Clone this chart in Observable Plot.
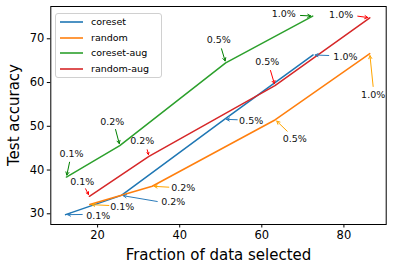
<!DOCTYPE html>
<html>
<head>
<meta charset="utf-8">
<script src="https://cdn.jsdelivr.net/npm/d3@7"></script>
<script src="https://cdn.jsdelivr.net/npm/@observablehq/plot@0.6"></script>
<style>
  body { margin: 0; background: #fff; }
  #wrap { position: relative; width: 393px; height: 270px; font-family: "DejaVu Sans", sans-serif; }
  #legend { position: absolute; left: 55px; top: 12.5px; width: 105px; height: 63px;
    border: 1px solid #d0d0d0; border-radius: 3px; background: rgba(255,255,255,0.8); }
  .row { position: absolute; left: 0; width: 105px; height: 14px; font-size: 9.5px; line-height: 14px; color: #000; }
  .row svg { position: absolute; left: 3px; top: 0; }
  .row span.tx { position: absolute; left: 35px; top: 0; white-space: nowrap; }
  #ylab { position: absolute; left: 13.5px; top: 115px; font-size: 15px; color: #000; white-space: nowrap;
    transform: translate(-50%, -50%) rotate(-90deg); line-height: 17px; }
</style>
</head>
<body>
<div id="wrap"><div id="chart"></div><div id="legend"></div><div id="ylab"></div></div>
<script>
const series = ["coreset", "random", "coreset-aug", "random-aug"];
const colors = ["#1f77b4", "#ff7f0e", "#2ca02c", "#d62728"];
const arrowColors = ["#2b7bba", "orange", "green", "red"];
const budgets = ["0.1%", "0.2%", "0.5%", "1.0%"];
const xLabel = "Fraction of data selected";
const yLabel = "Test accuracy";

// Fraction of data selected (x) and test accuracy (y), per series
const fracCoreset    = [12.2, 25.8, 50.9, 72.5];
const accCoreset     = [29.8, 34.2, 51.6, 66.3];
const fracRandom     = [18.1, 33.3, 63.3, 86.3];
const accRandom      = [32.1, 36.3, 51.5, 66.6];
const fracCoresetAug = [12.4, 25.4, 51.2, 72.4];
const accCoresetAug  = [38.4, 45.6, 64.5, 75.2];
const fracRandomAug  = [18.0, 32.5, 63.2, 86.3];
const accRandomAug   = [34.0, 43.1, 59.3, 74.8];

// Annotation text locations (data units), per series, per budget
const textXCoreset    = [20.16, 38.42, 57.41, 80.37];
const textYCoreset    = [29.61, 32.65, 51.33, 65.95];
const textXRandom     = [26.0, 40.86, 68.03, 87.12];
const textYRandom     = [31.67, 35.94, 47.14, 57.2];
const textXCoresetAug = [13.66, 23.57, 49.53, 65.35];
const textYCoresetAug = [43.78, 50.94, 69.77, 75.71];
const textXRandomAug  = [16.26, 30.87, 61.31, 79.33];
const textYRandomAug  = [37.38, 46.75, 64.65, 75.55];

// Arrow tail locations (data units)
const tailXCoreset    = [16.26, 34.53, 54.01, 76.31];
const tailYCoreset    = [29.84, 32.81, 51.49, 66.18];
const tailXRandom     = [22.74, 37.35, 66.18, 87.12];
const tailYRandom     = [31.9, 36.08, 48.88, 59.1];
const tailXCoresetAug = [13.17, 24.37, 50.18, 69.42];
const tailYCoresetAug = [41.79, 49.27, 67.71, 75.33];
const tailXRandomAug  = [17.07, 32.09, 62.11, 83.37];
const tailYRandomAug  = [35.71, 44.63, 62.75, 75.17];

const xs = [fracCoreset, fracRandom, fracCoresetAug, fracRandomAug];
const ys = [accCoreset, accRandom, accCoresetAug, accRandomAug];
const txs = [textXCoreset, textXRandom, textXCoresetAug, textXRandomAug];
const tys = [textYCoreset, textYRandom, textYCoresetAug, textYRandomAug];
const axs = [tailXCoreset, tailXRandom, tailXCoresetAug, tailXRandomAug];
const ays = [tailYCoreset, tailYRandom, tailYCoresetAug, tailYRandomAug];

const pts = [];
const anns = [];
series.forEach((s, i) => {
  budgets.forEach((b, j) => {
    pts.push({series: s, x: xs[i][j], y: ys[i][j]});
    anns.push({series: s, label: b, tx: txs[i][j], ty: tys[i][j],
      ax: axs[i][j], ay: ays[i][j], px: xs[i][j], py: ys[i][j], color: arrowColors[i]});
  });
});

const font = "DejaVu Sans, sans-serif";
const chart = Plot.plot({
  width: 393,
  height: 270,
  marginLeft: 50.3,
  marginRight: 7.3,
  marginTop: 6,
  marginBottom: 46,
  style: {fontFamily: font, background: "#fff", color: "#000"},
  x: {domain: [8.6, 90.3], ticks: [20, 40, 60, 80]},
  y: {domain: [27.55, 77.38], ticks: [30, 40, 50, 60, 70]},
  color: {domain: series, range: colors},
  marks: [
    Plot.axisX({ticks: [20, 40, 60, 80], tickSize: 3.5, tickPadding: 3, fontSize: 11.5, label: null, stroke: "#000"}),
    Plot.axisY({ticks: [30, 40, 50, 60, 70], tickSize: 3.5, tickPadding: 3, fontSize: 11.5, label: null, stroke: "#000"}),
    Plot.line(pts, {x: "x", y: "y", z: "series", stroke: "series", strokeWidth: 1.5}),
    Plot.arrow(anns, {x1: "ax", y1: "ay", x2: "px", y2: "py", stroke: d => d.color,
      strokeWidth: 1, headLength: 5, headAngle: 55, insetEnd: 2}),
    Plot.text(anns, {x: "tx", y: "ty", text: "label", fontSize: 9.5, fill: "#111",
      textAnchor: "middle", lineAnchor: "middle"}),
    Plot.frame({stroke: "#000", strokeWidth: 1}),
    Plot.text([xLabel], {text: d => d, frameAnchor: "bottom", dy: 31,
      fontSize: 15, fill: "#000", lineAnchor: "middle"})
  ]
});
document.getElementById("chart").appendChild(chart);
document.getElementById("ylab").textContent = yLabel;

const legend = document.getElementById("legend");
series.forEach((s, i) => {
  const row = document.createElement("div");
  row.className = "row";
  row.style.top = (1.5 + i * 15.7) + "px";
  row.innerHTML = `<svg width="26" height="14"><line x1="1" x2="24" y1="7" y2="7" stroke="${colors[i]}" stroke-width="1.6"/></svg><span class="tx">${s}</span>`;
  legend.appendChild(row);
});
</script>
</body>
</html>
